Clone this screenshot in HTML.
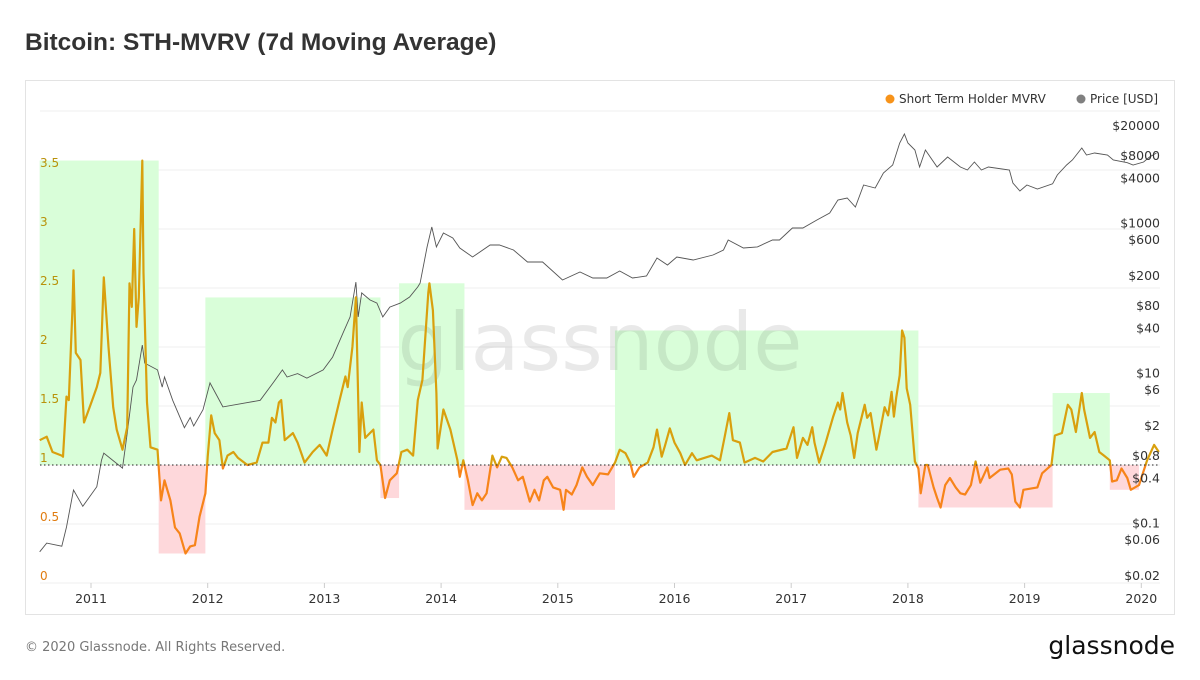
<!DOCTYPE html>
<html><head><meta charset="utf-8"><style>
body{margin:0;background:#fff;width:1200px;height:675px;overflow:hidden}
svg{font-family:"DejaVu Sans","Liberation Sans",sans-serif}
</style></head><body>
<svg id="c" width="1200" height="675" xmlns="http://www.w3.org/2000/svg">
<text x="25" y="50" font-size="24.5" font-weight="bold" fill="#333" font-family="Liberation Sans, sans-serif">Bitcoin: STH-MVRV (7d Moving Average)</text>
<rect x="25.5" y="80.5" width="1149" height="534" fill="none" stroke="#e3e3e3"/>
<g id="grid"></g>
<g id="boxes"></g>
<text x="600" y="370" text-anchor="middle" font-size="80" fill="#000" fill-opacity="0.085" font-family="DejaVu Sans, sans-serif">glassnode</text>
<g id="price"></g>
<g id="mvrv"></g>
<line x1="40" x2="1160" y1="465" y2="465" stroke="#222" stroke-dasharray="1.5,2.5"/>
<g id="axes"></g>
<g>
<g><circle cx="890" cy="99" r="4.5" fill="#f7931a"/><text x="899" y="103" font-size="12" fill="#333">Short Term Holder MVRV</text></g>
<g><circle cx="1081" cy="99" r="4.5" fill="#808080"/><text x="1090" y="103" font-size="12" fill="#333">Price [USD]</text></g>
</g>
<text x="25" y="651" font-size="13" fill="#777">© 2020 Glassnode. All Rights Reserved.</text>
<text x="1175" y="654" text-anchor="end" font-size="25" fill="#111" font-family="DejaVu Sans, sans-serif">glassnode</text>
</svg>
<script>
const mvrvT=[2010.56,2010.62,2010.67,2010.75,2010.76,2010.79,2010.81,2010.84,2010.85,2010.87,2010.91,2010.94,2010.97,2011.01,2011.05,2011.08,2011.11,2011.15,2011.19,2011.22,2011.27,2011.31,2011.33,2011.35,2011.37,2011.39,2011.41,2011.44,2011.45,2011.48,2011.51,2011.57,2011.60,2011.63,2011.68,2011.72,2011.76,2011.81,2011.85,2011.89,2011.93,2011.98,2012.00,2012.03,2012.06,2012.10,2012.13,2012.17,2012.22,2012.26,2012.34,2012.42,2012.47,2012.52,2012.55,2012.58,2012.61,2012.63,2012.66,2012.73,2012.77,2012.83,2012.90,2012.96,2013.02,2013.07,2013.13,2013.18,2013.20,2013.24,2013.27,2013.30,2013.32,2013.35,2013.39,2013.42,2013.45,2013.48,2013.52,2013.56,2013.62,2013.66,2013.71,2013.76,2013.80,2013.84,2013.89,2013.90,2013.93,2013.96,2013.97,2014.02,2014.08,2014.14,2014.16,2014.19,2014.23,2014.27,2014.31,2014.35,2014.39,2014.44,2014.48,2014.52,2014.56,2014.61,2014.66,2014.70,2014.76,2014.80,2014.84,2014.88,2014.91,2014.96,2015.02,2015.05,2015.07,2015.12,2015.16,2015.21,2015.25,2015.30,2015.36,2015.43,2015.49,2015.53,2015.58,2015.62,2015.65,2015.70,2015.77,2015.82,2015.85,2015.89,2015.92,2015.96,2016.00,2016.05,2016.09,2016.15,2016.19,2016.32,2016.39,2016.43,2016.47,2016.50,2016.56,2016.60,2016.69,2016.76,2016.84,2016.96,2017.02,2017.05,2017.10,2017.14,2017.18,2017.20,2017.24,2017.29,2017.36,2017.40,2017.42,2017.44,2017.48,2017.51,2017.54,2017.57,2017.63,2017.65,2017.68,2017.73,2017.76,2017.80,2017.83,2017.86,2017.88,2017.90,2017.93,2017.95,2017.97,2017.99,2018.02,2018.06,2018.09,2018.11,2018.15,2018.17,2018.22,2018.25,2018.28,2018.32,2018.36,2018.41,2018.45,2018.49,2018.54,2018.58,2018.62,2018.68,2018.70,2018.79,2018.86,2018.89,2018.92,2018.96,2018.99,2019.11,2019.15,2019.23,2019.26,2019.32,2019.37,2019.40,2019.44,2019.49,2019.51,2019.56,2019.60,2019.64,2019.68,2019.73,2019.75,2019.79,2019.83,2019.88,2019.91,2019.98,2020.05,2020.11,2020.15];
const mvrvV=[1.21,1.24,1.11,1.08,1.07,1.58,1.55,2.29,2.65,1.95,1.89,1.36,1.44,1.55,1.66,1.78,2.59,2.0,1.49,1.30,1.13,1.32,2.54,2.34,3.0,2.17,2.42,3.58,2.63,1.53,1.15,1.13,0.70,0.87,0.70,0.47,0.42,0.25,0.31,0.32,0.56,0.76,1.07,1.42,1.27,1.21,0.97,1.08,1.11,1.06,1.0,1.02,1.19,1.19,1.40,1.36,1.53,1.55,1.21,1.27,1.19,1.02,1.11,1.17,1.08,1.30,1.55,1.75,1.66,2.0,2.42,1.11,1.53,1.23,1.27,1.30,1.04,1.0,0.72,0.87,0.93,1.11,1.13,1.08,1.55,1.72,2.46,2.54,2.31,1.61,1.14,1.47,1.30,1.04,0.90,1.04,0.87,0.66,0.76,0.70,0.76,1.08,0.98,1.07,1.06,0.98,0.87,0.90,0.69,0.79,0.70,0.87,0.90,0.81,0.79,0.62,0.79,0.75,0.83,0.98,0.90,0.83,0.93,0.92,1.02,1.13,1.10,1.02,0.90,0.98,1.02,1.15,1.30,1.07,1.17,1.31,1.19,1.10,1.0,1.10,1.04,1.08,1.04,1.24,1.44,1.21,1.19,1.02,1.06,1.03,1.11,1.14,1.32,1.06,1.23,1.17,1.32,1.19,1.02,1.17,1.41,1.53,1.47,1.61,1.36,1.25,1.06,1.27,1.51,1.40,1.44,1.13,1.28,1.49,1.42,1.62,1.41,1.57,1.76,2.14,2.08,1.65,1.51,1.03,0.97,0.76,1.0,1.0,0.81,0.72,0.64,0.83,0.89,0.81,0.76,0.75,0.83,1.03,0.85,0.98,0.89,0.96,0.97,0.92,0.69,0.64,0.79,0.81,0.93,1.0,1.25,1.27,1.51,1.47,1.28,1.61,1.47,1.23,1.28,1.11,1.08,1.04,0.86,0.87,0.97,0.89,0.79,0.83,1.04,1.17,1.11];
const priceT=[2010.56,2010.62,2010.75,2010.79,2010.85,2010.93,2011.05,2011.09,2011.11,2011.27,2011.31,2011.36,2011.39,2011.44,2011.46,2011.57,2011.61,2011.63,2011.70,2011.80,2011.85,2011.88,2011.96,2012.02,2012.13,2012.34,2012.45,2012.56,2012.64,2012.68,2012.77,2012.85,2012.99,2013.07,2013.16,2013.22,2013.27,2013.29,2013.32,2013.39,2013.45,2013.50,2013.56,2013.65,2013.73,2013.80,2013.82,2013.88,2013.92,2013.96,2014.02,2014.10,2014.16,2014.27,2014.42,2014.50,2014.62,2014.74,2014.87,2015.04,2015.19,2015.30,2015.42,2015.53,2015.64,2015.76,2015.85,2015.94,2016.02,2016.16,2016.33,2016.42,2016.46,2016.59,2016.71,2016.84,2016.90,2017.01,2017.10,2017.22,2017.33,2017.40,2017.48,2017.55,2017.62,2017.72,2017.79,2017.87,2017.93,2017.97,2018.00,2018.06,2018.10,2018.15,2018.25,2018.34,2018.45,2018.51,2018.57,2018.63,2018.69,2018.87,2018.90,2018.96,2019.02,2019.11,2019.24,2019.28,2019.36,2019.41,2019.49,2019.53,2019.60,2019.71,2019.76,2019.88,2019.93,2020.02,2020.07,2020.13];
const priceV=[0.042,0.055,0.05,0.09,0.28,0.17,0.31,0.70,0.87,0.55,1.6,6.6,8.2,24,13.8,11.2,6.6,9,4.4,1.9,2.6,2.0,3.3,7.5,3.6,4.1,4.4,7.5,11.2,9,10,8.7,11.2,16.6,35,57,166,57,119,96,87,57,77,87,105,143,161,488,900,488,748,643,472,358,518,518,445,307,307,177,226,188,188,233,188,200,348,280,358,327,381,445,604,472,488,604,604,873,873,1117,1383,2061,2193,1663,3266,2979,4722,6040,11858,15632,11858,9572,5675,9572,5675,7727,5675,5176,6622,5176,5675,5176,3475,2716,3266,2891,3388,4446,6040,7047,10186,8204,8730,8204,7047,6480,6040,6622,7727,8730];
const regimeStart=[2010.56,2011.58,2011.98,2013.48,2013.64,2014.20,2015.49,2018.09,2019.24,2019.73];
const regimeEnd=[2011.58,2011.98,2013.48,2013.64,2014.20,2015.49,2018.09,2019.24,2019.73,2019.98];
const regimeHigh=[true,false,true,false,true,false,true,false,true,false];
const yearTicks=[2011,2012,2013,2014,2015,2016,2017,2018,2019,2020];
const mvrvTicks=[0,0.5,1,1.5,2,2.5,3,3.5];
const priceTicks=[20000,8000,4000,1000,600,200,80,40,10,6,2,0.8,0.4,0.1,0.06,0.02];

const NS='http://www.w3.org/2000/svg';
const X=t=>91+(t-2011)*116.7;
const YM=v=>583-v*118;
const YP=p=>126+(Math.log10(20000)-Math.log10(p))*75;
function mk(tag,attrs,parent){const e=document.createElementNS(NS,tag);for(const k in attrs)e.setAttribute(k,attrs[k]);parent.appendChild(e);return e;}
const grid=document.getElementById('grid'),axes=document.getElementById('axes'),boxes=document.getElementById('boxes');
[0,0.5,1,1.5,2,2.5,3,3.5,4].forEach(v=>{const l=mk('line',{x1:40,x2:1160,y1:YM(v),y2:YM(v),stroke:'#efefef'},grid);

});
mvrvTicks.forEach(v=>{const t=mk('text',{x:40,y:YM(v)-3,'font-size':12,fill:v>=1?'#b8920a':'#e07c10'},axes);t.textContent=String(v);

});
priceTicks.forEach(p=>{const t=mk('text',{x:1160,y:YP(p)+4,'font-size':12.5,fill:'#333','text-anchor':'end'},axes);t.textContent='$'+p;

});
yearTicks.forEach(y=>{const l=mk('line',{x1:X(y),x2:X(y),y1:583,y2:588,stroke:'#ccc'},axes);


const t=mk('text',{x:X(y),y:603,'font-size':12.5,fill:'#333','text-anchor':'middle'},axes);t.textContent=y;

});
regimeStart.forEach((s,k)=>{const e=regimeEnd[k],hi=regimeHigh[k];
let ext=1;mvrvT.forEach((t,m)=>{if(t>=s-0.005&&t<=e+0.005){ext=hi?Math.max(ext,mvrvV[m]):Math.min(ext,mvrvV[m]);}});
const y0=hi?YM(ext):YM(1),y1=hi?YM(1):YM(ext);
const r=mk('rect',{x:X(s),y:y0,width:X(e)-X(s),height:y1-y0,fill:hi?'#d9fed9':'#fed8db'},boxes);

});
const pp=priceT.map((t,k)=>X(t).toFixed(1)+','+YP(priceV[k]).toFixed(1)).join(' ');
const pl=mk('polyline',{points:pp,fill:'none',stroke:'#555','stroke-width':0.9},document.getElementById('price'));


const defs=mk('defs',{},document.getElementById('c'));
const ca=mk('clipPath',{id:'ab'},defs);mk('rect',{x:0,y:0,width:1200,height:465},ca);
const cb=mk('clipPath',{id:'bl'},defs);mk('rect',{x:0,y:465,width:1200,height:210},cb);
const mp=mvrvT.map((t,k)=>X(t).toFixed(1)+','+YM(mvrvV[k]).toFixed(1)).join(' ');
const g=document.getElementById('mvrv');
const m1=mk('polyline',{points:mp,fill:'none',stroke:'#d9a00e','stroke-width':2.2,'clip-path':'url(#ab)','stroke-linejoin':'round'},g);


const m2=mk('polyline',{points:mp,fill:'none',stroke:'#f7841a','stroke-width':2.2,'clip-path':'url(#bl)','stroke-linejoin':'round'},g);


</script>
</body></html>
